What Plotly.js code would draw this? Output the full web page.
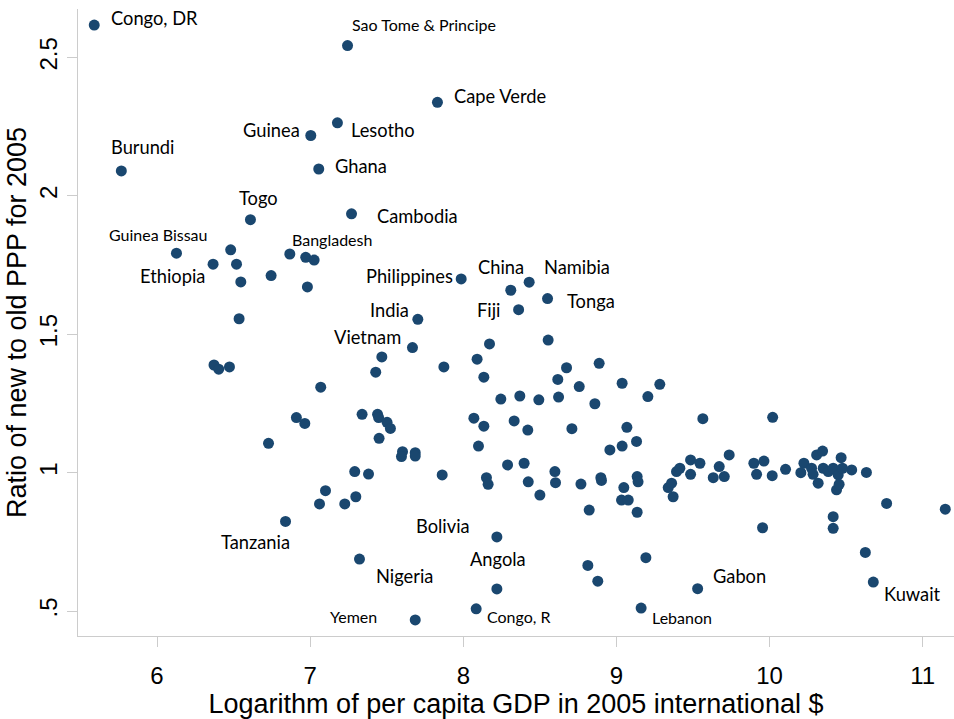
<!DOCTYPE html>
<html>
<head>
<meta charset="utf-8">
<script src="https://cdn.plot.ly/plotly-3.0.1.min.js"></script>
<style>html,body{margin:0;padding:0;background:#fff;}#chart{width:954px;height:719px;}</style>
</head>
<body>
<div id="chart"></div>
<script>
// Log per capita GDP (2005 intl $)
const logGDP = [
  5.590, 5.767, 7.244, 7.831, 7.178, 7.004, 7.056, 6.610, 7.270, 6.127,
  6.481, 6.366, 6.519, 6.547, 6.745, 6.867, 6.971, 7.026, 6.982, 6.536,
  6.372, 6.403, 6.473, 7.069, 6.910, 6.965, 6.728, 7.986, 8.310, 8.430,
  8.550, 8.361, 7.703, 7.668, 7.468, 7.428, 8.171, 8.554, 7.873, 8.090,
  8.134, 8.674, 8.617, 8.887, 8.757, 8.245, 8.369, 8.493, 8.622, 8.859,
  7.339, 7.440, 7.447, 7.502, 7.524, 7.450, 7.603, 7.596, 7.686, 7.686,
  8.069, 8.134, 8.332, 8.421, 8.709, 8.099, 8.957, 8.289, 8.397, 7.291,
  7.381, 8.598, 9.037, 9.283, 9.205, 9.564, 10.020, 9.068, 9.131, 9.037,
  9.484, 9.545, 9.671, 9.736, 9.392, 9.414, 9.897, 9.963, 10.104, 10.224,
  10.307, 10.346, 10.467, 10.536, 10.632, 6.839, 7.061, 7.100, 7.226, 7.298,
  7.862, 8.151, 8.162, 8.424, 8.500, 8.602, 8.768, 8.898, 8.902, 8.822,
  8.219, 7.322, 8.813, 8.878, 8.219, 8.084, 7.686, 9.048, 9.033, 9.077,
  9.135, 9.141, 9.135, 9.192, 9.161, 9.530, 9.338, 9.360, 9.370, 9.484,
  9.632, 9.704, 9.915, 10.017, 10.204, 10.274, 10.317, 10.350, 10.383, 10.415,
  10.448, 10.437, 10.454, 10.476, 10.284, 9.954, 10.415, 10.415, 10.764, 11.147,
  10.625, 10.677
];
// Ratio of new to old PPP for 2005
const pppRatio = [
  2.617, 2.090, 2.543, 2.338, 2.264, 2.218, 2.097, 1.914, 1.935, 1.793,
  1.805, 1.753, 1.753, 1.689, 1.712, 1.790, 1.778, 1.768, 1.671, 1.556,
  1.389, 1.374, 1.382, 1.309, 1.199, 1.178, 1.106, 1.700, 1.659, 1.688,
  1.629, 1.589, 1.554, 1.452, 1.418, 1.363, 1.465, 1.479, 1.382, 1.410,
  1.345, 1.379, 1.337, 1.395, 1.311, 1.266, 1.277, 1.263, 1.273, 1.249,
  1.211, 1.211, 1.199, 1.182, 1.160, 1.124, 1.076, 1.058, 1.072, 1.060,
  1.197, 1.168, 1.187, 1.154, 1.159, 1.096, 1.082, 1.028, 1.034, 1.004,
  0.995, 1.004, 1.323, 1.319, 1.275, 1.195, 1.200, 1.164, 1.113, 1.096,
  1.046, 1.034, 1.022, 1.064, 1.004, 1.016, 1.034, 1.042, 1.012, 1.034,
  1.064, 1.078, 1.054, 1.010, 1.001, 0.824, 0.887, 0.935, 0.887, 0.913,
  0.992, 0.982, 0.958, 0.967, 0.919, 0.964, 0.959, 0.982, 0.972, 0.865,
  0.768, 0.688, 0.665, 0.608, 0.580, 0.508, 0.468, 0.946, 0.901, 0.901,
  0.986, 0.967, 0.857, 0.693, 0.511, 0.581, 0.946, 0.962, 0.913, 0.994,
  0.982, 0.986, 0.994, 0.989, 1.000, 1.016, 0.962, 1.016, 1.004, 1.016,
  0.992, 0.938, 0.958, 1.016, 0.994, 0.801, 0.841, 0.799, 0.889, 0.868,
  0.712, 0.605
];
// Country labels ("" = unlabeled)
const countries = [
  "Congo, DR", "Burundi", "Sao Tome & Principe", "Cape Verde", "Lesotho", "Guinea", "Ghana", "Togo", "Cambodia", "Guinea Bissau",
  "", "Ethiopia", "", "", "", "Bangladesh", "", "", "", "",
  "", "", "", "", "", "", "", "Philippines", "China", "Namibia",
  "Tonga", "Fiji", "India", "Vietnam", "", "", "", "", "", "",
  "", "", "", "", "", "", "", "", "", "",
  "", "", "", "", "", "", "", "", "", "",
  "", "", "", "", "", "", "", "", "", "",
  "", "", "", "", "", "", "", "", "", "",
  "", "", "", "", "", "", "", "", "", "",
  "", "", "", "", "", "Tanzania", "", "", "", "",
  "", "", "", "", "", "", "", "", "", "",
  "Bolivia", "Nigeria", "", "", "Angola", "Congo, R", "Yemen", "", "", "",
  "", "", "", "", "Lebanon", "Gabon", "", "", "", "",
  "", "", "", "", "", "", "", "", "", "",
  "", "", "", "", "", "", "", "", "", "",
  "", "Kuwait"
];
const xTicks = [6, 7, 8, 9, 10, 11];
const yTicks = [0.5, 1, 1.5, 2, 2.5];
const yTickText = [".5", "1", "1.5", "2", "2.5"];

// Label placement styles: [anchor, dx px, dy px (down), font size]
const BIG = 18.3, SMALL = 16;
const labelStyle = {
  "Congo, DR": ["left", 15, -7, BIG],
  "Sao Tome & Principe": ["left", 2, -21, SMALL],
  "Cape Verde": ["left", 15, -6, BIG],
  "Lesotho": ["left", 12, 7, BIG],
  "Guinea": ["right", -9, -6, BIG],
  "Ghana": ["left", 14, -3, BIG],
  "Burundi": ["left", -12, -24, BIG],
  "Togo": ["left", -13, -22, BIG],
  "Cambodia": ["left", 23, 2, BIG],
  "Guinea Bissau": ["center", -18, -19, SMALL],
  "Bangladesh": ["left", 0, -14, SMALL],
  "Ethiopia": ["right", -6, 12, BIG],
  "Philippines": ["right", -6, -3, BIG],
  "China": ["center", -10, -23, BIG],
  "Namibia": ["left", 13, -15, BIG],
  "Tonga": ["left", 17, 2, BIG],
  "Fiji": ["right", -17, 0, BIG],
  "India": ["right", -7, -9, BIG],
  "Vietnam": ["right", -9, -11, BIG],
  "Tanzania": ["center", -30, 21, BIG],
  "Bolivia": ["right", -25, -11, BIG],
  "Nigeria": ["left", 15, 17, BIG],
  "Angola": ["center", 1, -30, BIG],
  "Yemen": ["right", -36, -3, SMALL],
  "Congo, R": ["left", 9, 8, SMALL],
  "Lebanon": ["left", 9, 9, SMALL],
  "Gabon": ["left", 13, -13, BIG],
  "Kuwait": ["left", 9, 12, BIG]
};

const labelFont = "Lato, 'Noto Sans', sans-serif";
const annotations = [];
countries.forEach((name, i) => {
  if (!name) return;
  const s = labelStyle[name] || ["left", 10, 0, BIG];
  annotations.push({
    x: logGDP[i], y: pppRatio[i], xref: "x", yref: "y",
    text: name, showarrow: false,
    xanchor: s[0], yanchor: "middle",
    xshift: s[1], yshift: -s[2],
    font: {family: labelFont, size: s[3], color: "#000"}
  });
});

const trace = {
  x: logGDP, y: pppRatio, type: "scatter", mode: "markers",
  marker: {color: "#1a476f", size: 11, line: {width: 0}},
  hoverinfo: "skip"
};

const axisFont = "'Liberation Sans', Arial, sans-serif";
const layout = {
  width: 954, height: 719,
  margin: {l: 78, r: 0, t: 9, b: 83, pad: 0},
  paper_bgcolor: "#fff", plot_bgcolor: "#fff",
  showlegend: false,
  font: {family: axisFont, color: "#000"},
  xaxis: {
    range: [5.484, 11.204], tickvals: xTicks, ticktext: xTicks.map(String),
    showgrid: false, zeroline: false, showline: true, linecolor: "#cccccc", linewidth: 1,
    ticks: "outside", ticklen: 10, tickcolor: "#cccccc", tickwidth: 1,
    ticklabelstandoff: 8,
    tickfont: {family: axisFont, size: 24, color: "#000"},
    title: {text: "Logarithm of per capita GDP in 2005 international $", font: {family: axisFont, size: 27, color: "#000"}, standoff: 5}
  },
  yaxis: {
    range: [0.41, 2.675], tickvals: yTicks, ticktext: yTickText, tickangle: -90,
    showgrid: false, zeroline: false, showline: true, linecolor: "#cccccc", linewidth: 1,
    ticks: "outside", ticklen: 10, tickcolor: "#cccccc", tickwidth: 1,
    tickfont: {family: axisFont, size: 24, color: "#000"},
    title: {text: "Ratio of new to old PPP for 2005", font: {family: axisFont, size: 27, color: "#000"}, standoff: 0}
  },
  annotations: annotations
};

Plotly.newPlot("chart", [trace], layout, {displayModeBar: false, staticPlot: true});
</script>
</body>
</html>
